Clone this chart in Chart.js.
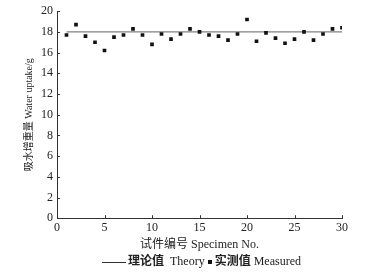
<!DOCTYPE html>
<html lang="zh">
<head>
  <meta charset="UTF-8">
  <title>吸水增重量</title>
  <script src="https://cdn.jsdelivr.net/npm/chart.js"></script>
  <style>
    body {
      margin: 0;
      background: #fff;
    }

    .wrap {
      position: relative;
      width: 374px;
      height: 277px;
    }

    .legend {
      position: absolute;
      left: 102px;
      top: 252px;
      font-family: "Liberation Serif", "Noto Sans CJK SC", serif;
      font-size: 12px;
      color: #222;
      white-space: nowrap;
      line-height: 16px;
    }

    .legend .zh {
      font-family: "Noto Sans CJK SC", sans-serif;
      font-weight: bold;
      font-size: 12px;
    }

    .legend .ln {
      display: inline-block;
      width: 24px;
      height: 0;
      border-top: 1px solid #333;
      vertical-align: middle;
      margin-right: 2px;
    }

    .legend .sq {
      display: inline-block;
      width: 4px;
      height: 4px;
      background: #111;
      vertical-align: middle;
      margin: 0 3px 0 3px;
    }
  </style>
</head>

<body>
  <div class="wrap">
    <canvas id="chart" width="374" height="277"></canvas>
    <div class="legend">
      <span class="ln"></span><span class="zh">理论值</span>&nbsp;&nbsp;Theory<span class="sq"></span><span class="zh">实测值</span> Measured
    </div>
  </div>

  <script>
    // 试件编号
    const specimens = [1, 2, 3, 4, 5, 6, 7, 8, 9, 10, 11, 12, 13, 14, 15,
      16, 17, 18, 19, 20, 21, 22, 23, 24, 25, 26, 27, 28, 29, 30];
    // 实测值 (g)
    const measured = [17.7, 18.7, 17.6, 17.0, 16.2, 17.5, 17.7, 18.3, 17.7, 16.8,
      17.8, 17.3, 17.8, 18.3, 18.0, 17.7, 17.6, 17.2, 17.8, 19.2,
      17.1, 17.9, 17.4, 16.9, 17.3, 18.0, 17.2, 17.8, 18.3, 18.4];
    // 理论值
    const theoryX = [1, 30];
    const theoryY = [18, 18];

    const xTicks = [0, 5, 10, 15, 20, 25, 30];
    const yTicks = [0, 2, 4, 6, 8, 10, 12, 14, 16, 18, 20];

    const serif = '"Liberation Serif", "Noto Sans CJK SC", serif';

    // tick marks drawn on the inside of the axes
    const innerTicks = {
      id: 'innerTicks',
      afterDraw(chart) {
        const ctx = chart.ctx;
        const xs = chart.scales.x, ys = chart.scales.y;
        const area = chart.chartArea;
        ctx.save();
        ctx.strokeStyle = '#333';
        ctx.lineWidth = 1;
        ctx.beginPath();
        xTicks.forEach(v => {
          const px = Math.round(xs.getPixelForValue(v)) + 0.5;
          ctx.moveTo(px, area.bottom);
          ctx.lineTo(px, area.bottom - 3);
        });
        yTicks.forEach(v => {
          const py = Math.round(ys.getPixelForValue(v)) + 0.5;
          ctx.moveTo(area.left, py);
          ctx.lineTo(area.left + 3, py);
        });
        ctx.stroke();
        ctx.restore();
      }
    };

    new Chart(document.getElementById('chart'), {
      type: 'scatter',
      data: {
        datasets: [
          {
            label: '理论值 Theory',
            type: 'line',
            order: 1,
            data: theoryX.map((x, i) => ({ x, y: theoryY[i] })),
            borderColor: '#808080',
            borderWidth: 1.3,
            pointRadius: 0,
            fill: false
          },
          {
            label: '实测值 Measured',
            order: 0,
            data: specimens.map((x, i) => ({ x, y: measured[i] })),
            pointStyle: 'rect',
            pointRadius: 2.6,
            backgroundColor: '#111',
            borderColor: '#111',
            borderWidth: 0
          }
        ]
      },
      options: {
        responsive: false,
        animation: false,
        layout: {
          padding: { left: 19, right: 32, top: 2, bottom: 25 }
        },
        plugins: {
          legend: { display: false },
          tooltip: { enabled: false }
        },
        scales: {
          x: {
            type: 'linear',
            min: 0,
            max: 30,
            afterBuildTicks: s => { s.ticks = xTicks.map(v => ({ value: v })); },
            grid: { display: false, drawTicks: false },
            border: { display: true, color: '#333', width: 1 },
            ticks: {
              padding: 2,
              color: '#222',
              font: { family: serif, size: 12 }
            },
            title: {
              display: true,
              text: '试件编号 Specimen No.',
              color: '#222',
              font: { family: serif, size: 12 },
              padding: { top: 1, bottom: 0 }
            }
          },
          y: {
            min: 0,
            max: 20,
            afterBuildTicks: s => { s.ticks = yTicks.map(v => ({ value: v })); },
            grid: { display: false, drawTicks: false },
            border: { display: true, color: '#333', width: 1 },
            ticks: {
              padding: 4,
              color: '#222',
              font: { family: serif, size: 12 }
            },
            title: {
              display: true,
              text: '吸水增重量 Water uptake/g',
              color: '#222',
              font: { family: serif, size: 10 },
              padding: { top: 4, bottom: 2 }
            }
          }
        }
      },
      plugins: [innerTicks]
    });
  </script>
</body>
</html>
